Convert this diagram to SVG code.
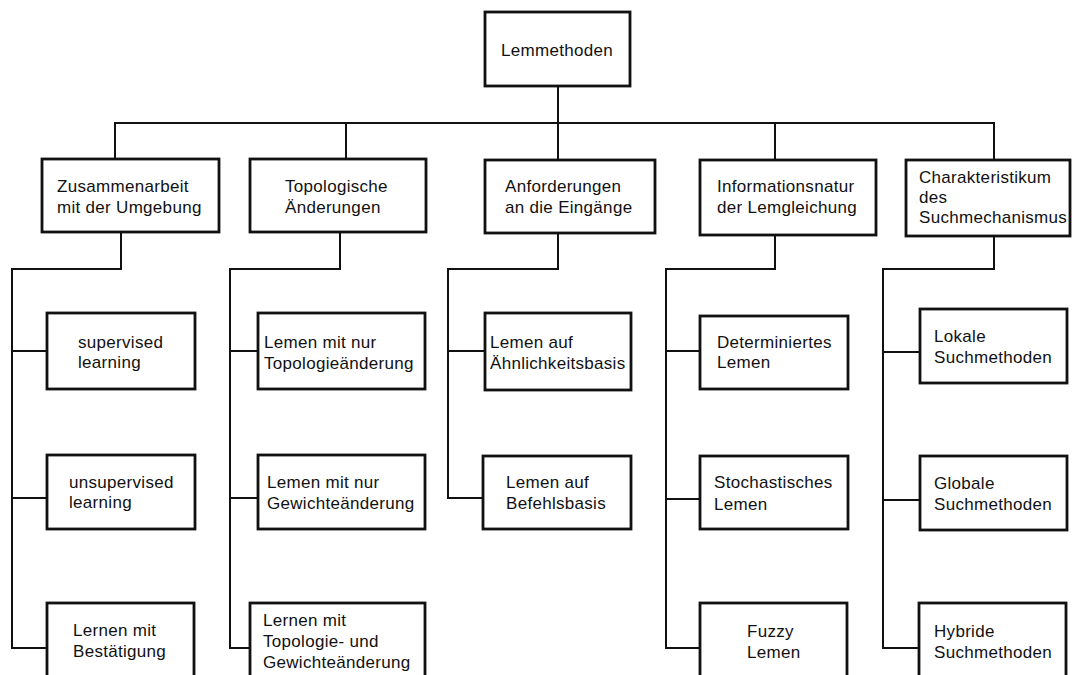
<svg xmlns="http://www.w3.org/2000/svg" width="1072" height="675" viewBox="0 0 1072 675">
<style>
.bg{fill:#ffffff}
.box{fill:#ffffff;stroke:#111;stroke-width:2.8}
.ln{fill:none;stroke:#111;stroke-width:2}
text{font-family:"Liberation Sans",Arial,sans-serif;font-size:17px;letter-spacing:0.3px;fill:#111}
</style>
<rect class="bg" x="0" y="0" width="1072" height="675"/>
<g id="connectors">
<path class="ln" d="M558,86 V160"/>
<path class="ln" d="M115,159 V123 H994 V160"/>
<path class="ln" d="M346,123 V159"/>
<path class="ln" d="M775,123 V160"/>
<path class="ln" d="M121,232 V269 H12 V648 H47"/>
<path class="ln" d="M12,351 H47 M12,498 H47"/>
<path class="ln" d="M340,232 V269 H230 V648 H250"/>
<path class="ln" d="M230,351 H258 M230,498 H258"/>
<path class="ln" d="M558,233 V269 H448 V498 H483"/>
<path class="ln" d="M448,351 H485"/>
<path class="ln" d="M775,235 V269 H666 V648 H700"/>
<path class="ln" d="M666,351 H700 M666,499 H700"/>
<path class="ln" d="M994,236 V269 H883 V648 H919"/>
<path class="ln" d="M883,352 H920 M883,500 H920"/>
</g>
<g id="root"><rect class="box" x="485" y="12" width="145" height="74"/><text x="501" y="56">Lemmethoden</text></g>
<g id="n1"><rect class="box" x="42" y="159" width="177" height="73"/><text x="57" y="192">Zusammenarbeit</text><text x="57" y="213">mit der Umgebung</text></g>
<g id="n2"><rect class="box" x="250" y="159" width="176" height="73"/><text x="285" y="192">Topologische</text><text x="285" y="213">Änderungen</text></g>
<g id="n3"><rect class="box" x="485" y="160" width="170" height="73"/><text x="505" y="192">Anforderungen</text><text x="505" y="213">an die Eingänge</text></g>
<g id="n4"><rect class="box" x="700" y="160" width="176" height="75"/><text x="717" y="192">Informationsnatur</text><text x="717" y="213">der Lemgleichung</text></g>
<g id="n5"><rect class="box" x="906" y="160" width="164" height="76"/><text x="919" y="183">Charakteristikum</text><text x="919" y="203">des</text><text x="919" y="223">Suchmechanismus</text></g>
<g id="n1a"><rect class="box" x="47" y="313" width="148" height="76"/><text x="78" y="348">supervised</text><text x="78" y="368">learning</text></g>
<g id="n1b"><rect class="box" x="47" y="455" width="148" height="74"/><text x="69" y="488">unsupervised</text><text x="69" y="508">learning</text></g>
<g id="n1c"><rect class="box" x="47" y="603" width="147" height="80"/><text x="73" y="636">Lernen mit</text><text x="73" y="657">Bestätigung</text></g>
<g id="n2a"><rect class="box" x="258" y="313" width="167" height="76"/><text x="264" y="348">Lemen mit nur</text><text x="264" y="369">Topologieänderung</text></g>
<g id="n2b"><rect class="box" x="258" y="455" width="167" height="74"/><text x="267" y="488">Lemen mit nur</text><text x="267" y="509">Gewichteänderung</text></g>
<g id="n2c"><rect class="box" x="250" y="603" width="175" height="80"/><text x="263" y="626">Lernen mit</text><text x="263" y="647">Topologie- und</text><text x="263" y="668">Gewichteänderung</text></g>
<g id="n3a"><rect class="box" x="485" y="313" width="146" height="77"/><text x="490" y="348">Lemen auf</text><text x="490" y="369">Ähnlichkeitsbasis</text></g>
<g id="n3b"><rect class="box" x="483" y="456" width="148" height="73"/><text x="506" y="488">Lemen auf</text><text x="506" y="509">Befehlsbasis</text></g>
<g id="n4a"><rect class="box" x="700" y="316" width="148" height="73"/><text x="717" y="348">Determiniertes</text><text x="717" y="368">Lemen</text></g>
<g id="n4b"><rect class="box" x="700" y="456" width="148" height="73"/><text x="714" y="488">Stochastisches</text><text x="714" y="510">Lemen</text></g>
<g id="n4c"><rect class="box" x="700" y="603" width="147" height="80"/><text x="747" y="637">Fuzzy</text><text x="747" y="658">Lemen</text></g>
<g id="n5a"><rect class="box" x="920" y="309" width="147" height="74"/><text x="934" y="342">Lokale</text><text x="934" y="363">Suchmethoden</text></g>
<g id="n5b"><rect class="box" x="920" y="456" width="147" height="74"/><text x="934" y="489">Globale</text><text x="934" y="510">Suchmethoden</text></g>
<g id="n5c"><rect class="box" x="919" y="603" width="147" height="80"/><text x="934" y="637">Hybride</text><text x="934" y="658">Suchmethoden</text></g>
</svg>
